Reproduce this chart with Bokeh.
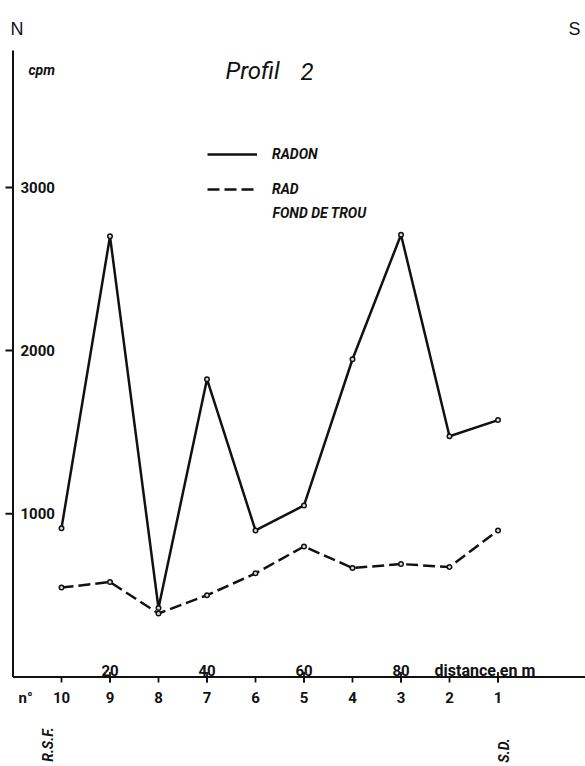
import math
from bokeh.plotting import figure
from bokeh.models import Range1d, Legend, LegendItem, Label
from bokeh.core.properties import value
from bokeh.embed import file_html
from bokeh.resources import INLINE

# ---------------- data ----------------
point_numbers = ["10", "9", "8", "7", "6", "5", "4", "3", "2", "1"]
distance_m = [10, 20, 30, 40, 50, 60, 70, 80, 90, 100]
radon_cpm = [912, 2700, 423, 1825, 898, 1051, 1947, 2710, 1475, 1574]
rad_fond_cpm = [548, 582, 389, 501, 635, 800, 668, 692, 674, 898]
y_ticks = [1000, 2000, 3000]
y_tick_labels = ["1000", "2000", "3000"]
dist_ticks = [20, 40, 60, 80, 100]
dist_tick_labels = ["20", "40", "60", "80", ""]

# ---------------- layout ----------------
W, H = 585, 766
PAGE = 0
ORIGIN_X_IMG = 12.5      # image px of distance 0
ORIGIN_Y_IMG = 676.5     # image px of 0 cpm
PX_PER_M = 4.85
PX_PER_CPM = 0.1632


def fx(img_x):
    return (img_x - ORIGIN_X_IMG) / PX_PER_M


def fy(img_y):
    return (ORIGIN_Y_IMG - img_y) / PX_PER_CPM


x_range = Range1d(fx(PAGE), fx(PAGE + W))
y_range = Range1d(fy(PAGE + H), fy(PAGE))

p = figure(width=W, height=H, x_range=x_range, y_range=y_range,
           toolbar_location=None, output_backend="svg", min_border=0,
           x_axis_location=None, y_axis_location=None,
           outline_line_color=None, background_fill_color="white",
           border_fill_color="white")
p.grid.visible = False

INK = "#111111"
FONT = value("Roboto")

# axes lines
p.segment(x0=[0, 0], y0=[0, 0], x1=[0, fx(PAGE + W + 10)], y1=[fy(50), 0],
          line_color=INK, line_width=2)
# y ticks (pointing left)
p.segment(x0=fx(5), y0=y_ticks, x1=0, y1=y_ticks, line_color=INK, line_width=2)
# point ticks (below axis)
p.segment(x0=distance_m, y0=0, x1=distance_m, y1=fy(682), line_color=INK, line_width=1.8)
# distance ticks (crossing)
p.segment(x0=dist_ticks, y0=fy(671.5), x1=dist_ticks, y1=fy(682), line_color=INK, line_width=1.8)

# tick labels
p.text(x=fx(20), y=y_ticks, text=y_tick_labels, text_align="left",
       text_baseline="middle", text_font=FONT, text_font_style="bold",
       text_font_size="15px", text_color=INK)
p.text(x=dist_ticks, y=fy(670), text=dist_tick_labels, text_align="center",
       text_baseline="alphabetic", text_font=FONT, text_font_style="bold",
       text_font_size="15px", text_color=INK)
p.text(x=distance_m, y=fy(697), text=point_numbers, text_align="center",
       text_baseline="alphabetic", text_font=FONT, text_font_style="bold",
       text_font_size="15px", text_color=INK)

# series
r_radon = p.line(distance_m, radon_cpm, line_color=INK, line_width=2.5)
p.scatter(distance_m, radon_cpm, marker="circle", size=4.5, fill_color="#dddddd",
          line_color=INK, line_width=1.5)
r_fond = p.line(distance_m, rad_fond_cpm, line_color=INK, line_width=2.5,
                line_dash="12 5")
p.scatter(distance_m, rad_fond_cpm, marker="circle", size=4.5, fill_color="#dddddd",
          line_color=INK, line_width=1.5)

# legend
legend = Legend(items=[LegendItem(label="RADON", renderers=[r_radon]),
                       LegendItem(label="RAD", renderers=[r_fond])],
                location=(207 - PAGE, H - (143.5 - PAGE) - 55),
                glyph_width=50, glyph_height=20,
                label_height=20, label_standoff=15, spacing=15, padding=0,
                margin=0, border_line_color=None, background_fill_alpha=0,
                label_text_font="Roboto", label_text_font_style="bold italic",
                label_text_font_size="14px", label_text_color=INK)
p.add_layout(legend)


def label(txt, img_x, img_y, size, style="normal", font="Roboto",
          align="left", baseline="alphabetic", angle=0.0):
    p.add_layout(Label(x=fx(img_x), y=fy(img_y), text=txt, text_font=font,
                       text_font_size=size, text_font_style=style,
                       text_align=align, text_baseline=baseline,
                       text_color=INK, angle=angle))


label("FOND DE TROU", 272, 212, "14px", "bold italic")
label("N", 10, 28, "18px", font="Liberation Sans")
label("S", 568, 28, "18px", font="Liberation Sans")
label("cpm", 28, 69, "14px", "bold italic")
label("Profil", 225, 70.5, "24px", "italic")
label("2", 300, 70.5, "24px", "italic")
label("distance en m", 434, 670, "16px", "bold")
label("n°", 18, 697, "15px", "bold")
label("R.S.F.", 47, 744, "14px", "bold italic", align="center",
      baseline="middle", angle=math.pi / 2)
label("S.D.", 503, 750, "14px", "bold italic", align="center",
      baseline="middle", angle=math.pi / 2)

open("out.html", "w").write(file_html(p, INLINE))
